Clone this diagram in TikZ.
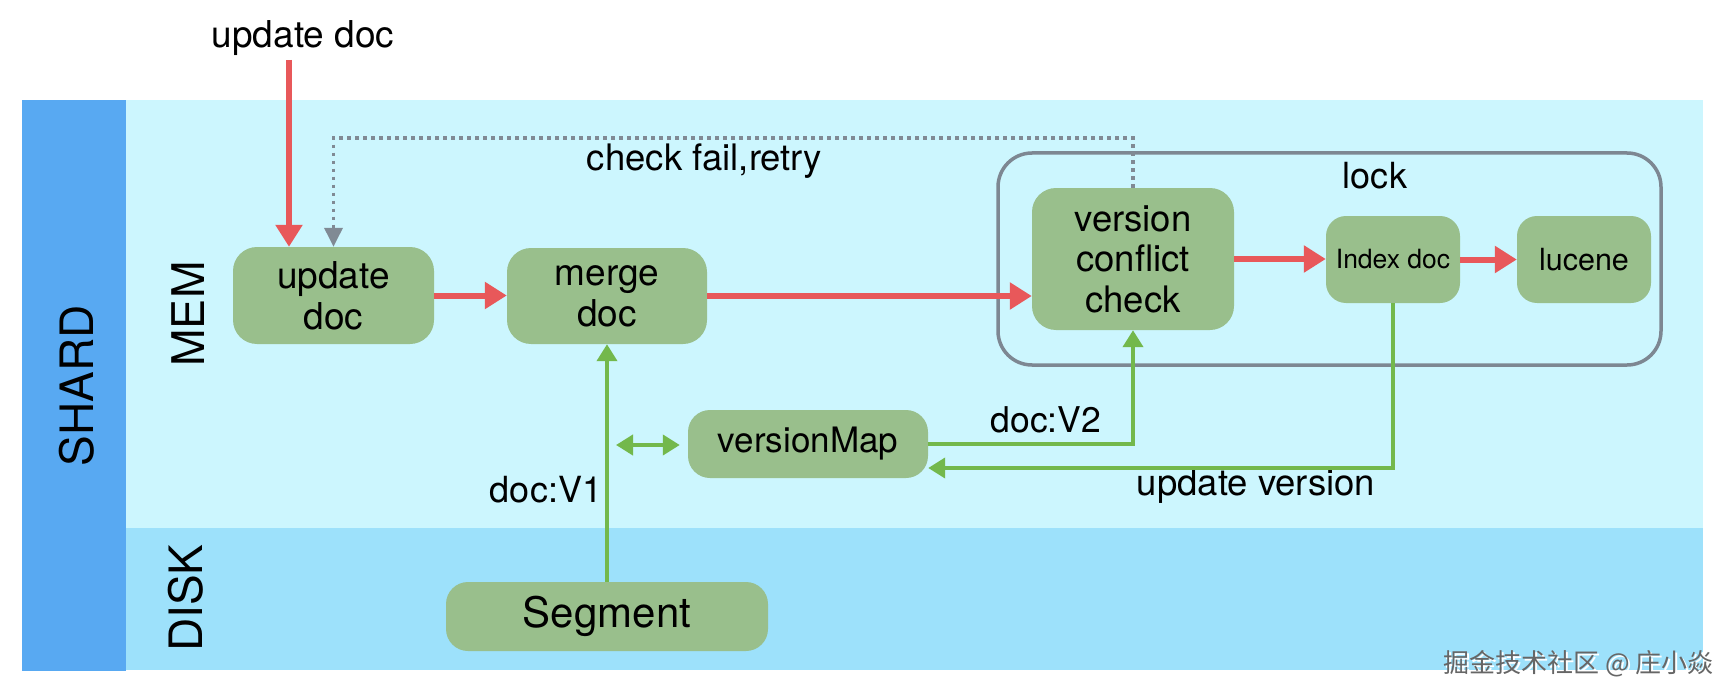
\documentclass[tikz,border=0pt]{standalone}
\usepackage{fontspec}
\setmainfont{TeX Gyre Heros}
\newfontfamily\cjkfont{Noto Sans CJK SC}
\usetikzlibrary{arrows.meta}
\definecolor{shardblue}{HTML}{58A9F2}
\definecolor{membg}{HTML}{CCF6FE}
\definecolor{diskbg}{HTML}{9DE1FB}
\definecolor{boxgreen}{HTML}{99BF8C}
\definecolor{redarrow}{HTML}{E8585A}
\definecolor{greenarrow}{HTML}{73B84C}
\definecolor{lockgray}{HTML}{7D8792}
\definecolor{dotgray}{HTML}{808A94}
\newcommand{\fs}[2]{\fontsize{#1}{#2}\selectfont}
\tikzset{
  gbox/.style={fill=boxgreen, rounded corners=24pt, inner sep=0pt, align=center, text=black},
  redarr/.style={draw=redarrow, line width=6pt, -{Triangle[length=22pt,width=26pt]}},
  greenarr/.style={draw=greenarrow, line width=4pt, -{Triangle[length=17pt,width=20pt]}},
  retryarr/.style={draw=dotgray, line width=3.5pt, dash pattern=on 3.5pt off 4.5pt, -{Triangle[length=19pt,width=18pt]}},
  lbl/.style={inner sep=0pt, anchor=base, text=black},
}
\begin{document}
\begin{tikzpicture}[x=1pt,y=-1pt]
\useasboundingbox (0,0) rectangle (1724,698);
\fill[white] (0,0) rectangle (1724,698);
% backgrounds
\fill[shardblue] (22,100) rectangle (126,671);
\fill[membg] (126,100) rectangle (1703,528);
\fill[diskbg] (126,528) rectangle (1703,670);
% side labels
\node[lbl, rotate=90, font=\fs{46}{50}] (shard) at (93,386) {SHARD};
\node[lbl, rotate=90, font=\fs{45}{50}] (mem) at (204,314) {MEM};
\node[lbl, rotate=90, font=\fs{46}{50}] (disk) at (202,598) {DISK};
% lock region
\node[draw=lockgray, line width=3.5pt, rounded corners=34pt, minimum width=663pt, minimum height=212pt, inner sep=0pt] (lock) at (1329.5,259) {};
\node[lbl, font=\fs{36}{40}] (locklbl) at (1375,188) {lock};
% boxes
\node[gbox, minimum width=201pt, minimum height=97pt, font=\fs{37}{41}] (upd) at (333.5,295.5) {update\\doc};
\node[gbox, minimum width=200pt, minimum height=96pt, font=\fs{37}{41}] (merge) at (607,296) {merge\\doc};
\node[gbox, minimum width=202pt, minimum height=142pt, font=\fs{36.5}{40.5}] (vcc) at (1133,259) {version\\conflict\\check};
\node[gbox, rounded corners=20pt, minimum width=134pt, minimum height=87pt, font=\fs{26.5}{30}] (idx) at (1393,259.5) {Index doc};
\node[gbox, rounded corners=20pt, minimum width=134pt, minimum height=87pt, font=\fs{30.5}{34}] (luc) at (1584,259.5) {lucene};
\node[gbox, rounded corners=22pt, minimum width=240pt, minimum height=68pt, font=\fs{35}{40}] (vm) at (808,444) {versionMap};
\node[gbox, rounded corners=22pt, minimum width=322pt, minimum height=69pt, font=\fs{42}{46}] (seg) at (607,616.5) {Segment};
% texts
\node[lbl, font=\fs{37}{41}] (toplbl) at (303,48) {update doc};
\node[lbl, font=\fs{36.5}{41}] (retrylbl) at (704.5,171) {check fail,retry};
\node[lbl, font=\fs{35.5}{40}] (v2lbl) at (1046,432) {doc:V2};
\node[lbl, font=\fs{36}{40}] (v1lbl) at (546,502) {doc:V1};
\node[lbl, font=\fs{36.5}{41}] (uvlbl) at (1256,495) {update version};
\node[inner sep=0pt, anchor=base west, text=white, font=\cjkfont\fs{26}{30}] at (1445,674) {掘金技术社区 @ 庄小焱};
\node[inner sep=0pt, anchor=base west, text=black!60, font=\cjkfont\fs{26}{30}] (wm) at (1443,672) {掘金技术社区 @ 庄小焱};
% coordinates
\coordinate (in) at (289,60);
\coordinate (rt) at (0,138);
\coordinate (da) at (616,445);
\coordinate (uv) at (0,468);
% red flow
\draw[redarr] (in) -- (in |- upd.north);
\draw[redarr] (upd.east) -- (merge.west |- upd.east);
\draw[redarr] (merge.east) -- (merge.east -| vcc.west);
\draw[redarr] (vcc.east) -- (vcc.east -| idx.west);
\draw[redarr] (idx.east) -- (luc.west);
% retry
\draw[retryarr] (vcc.north) -- (vcc.north |- rt) -| (upd.north);
% green
\draw[greenarr] (seg.north) -- (merge.south);
\draw[greenarr, {Triangle[length=17pt,width=20pt]}-{Triangle[length=17pt,width=20pt]}, shorten >=8pt] (da) -- (da -| vm.west);
\draw[greenarr] (vm.east) -| (vcc.south);
\draw[greenarr] (idx.south) -- (idx.south |- uv) -- (uv -| vm.east);
\end{tikzpicture}
\end{document}
